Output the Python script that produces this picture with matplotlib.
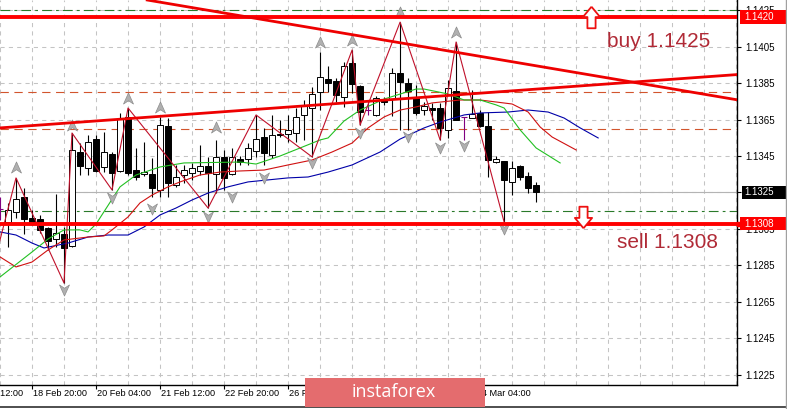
import numpy as np
import matplotlib
matplotlib.use('Agg')
import matplotlib.pyplot as plt
import matplotlib.transforms as mtrans
from matplotlib.path import Path
from matplotlib.patches import Rectangle
from matplotlib.lines import Line2D

plt.rcParams['font.family'] = ['Liberation Sans', 'DejaVu Sans']
plt.rcParams['lines.scale_dashes'] = False

# EURUSD H4 candles, bar 0 = first visible bar
opens = [1.13160, 1.13088, 1.13143, 1.13225, 1.13110, 1.13105, 1.13056, 1.12995, 1.13023, 1.12957,
         1.13472, 1.13384, 1.13543, 1.13390, 1.13461, 1.13368, 1.13664, 1.13373, 1.13351, 1.13351,
         1.13264, 1.13615, 1.13291, 1.13346, 1.13357, 1.13368, 1.13395, 1.13351, 1.13445, 1.13351,
         1.13434, 1.13434, 1.13478, 1.13554, 1.13456, 1.13571, 1.13571, 1.13576, 1.13675, 1.13713,
         1.13801, 1.13872, 1.13861, 1.13773, 1.13960, 1.13834, 1.13702, 1.13675, 1.13762, 1.13762,
         1.13905, 1.13850, 1.13773, 1.13702, 1.13713, 1.13713, 1.13593, 1.13806, 1.13664, 1.13658,
         1.13686, 1.13615, 1.13417, 1.13423, 1.13308, 1.13395, 1.13341, 1.13291]
highs = [1.13225, 1.13193, 1.13330, 1.13275, 1.13154, 1.13127, 1.13061, 1.13242, 1.13061, 1.13576,
         1.13521, 1.13565, 1.13565, 1.13582, 1.13472, 1.13686, 1.13713, 1.13494, 1.13527, 1.13439,
         1.13664, 1.13658, 1.13401, 1.13401, 1.13412, 1.13510, 1.13445, 1.13538, 1.13483, 1.13494,
         1.13450, 1.13521, 1.13675, 1.13604, 1.13675, 1.13647, 1.13675, 1.13713, 1.13757, 1.13828,
         1.14020, 1.13943, 1.13878, 1.13965, 1.14031, 1.13839, 1.13757, 1.13779, 1.13773, 1.13932,
         1.14184, 1.13878, 1.13839, 1.13746, 1.13741, 1.13741, 1.13867, 1.14075, 1.13664, 1.13812,
         1.13702, 1.13691, 1.13450, 1.13423, 1.13423, 1.13401, 1.13362, 1.13308]
lows = [1.13099, 1.12952, 1.13110, 1.13023, 1.13072, 1.13028, 1.12935, 1.12952, 1.12754, 1.12952,
        1.13346, 1.13346, 1.13362, 1.13362, 1.13264, 1.13362, 1.13346, 1.13319, 1.13341, 1.13225,
        1.13225, 1.13225, 1.13281, 1.13302, 1.13319, 1.13346, 1.13165, 1.13247, 1.13264, 1.13346,
        1.13401, 1.13401, 1.13445, 1.13401, 1.13439, 1.13554, 1.13527, 1.13527, 1.13538, 1.13445,
        1.13702, 1.13801, 1.13746, 1.13719, 1.13795, 1.13620, 1.13675, 1.13669, 1.13730, 1.13669,
        1.13593, 1.13593, 1.13675, 1.13675, 1.13647, 1.13538, 1.13549, 1.13647, 1.13538, 1.13658,
        1.13609, 1.13335, 1.13412, 1.13088, 1.13236, 1.13319, 1.13247, 1.13198]
closes = [1.13160, 1.13154, 1.13214, 1.13105, 1.13088, 1.13045, 1.12984, 1.13028, 1.12946, 1.13483,
          1.13395, 1.13527, 1.13368, 1.13472, 1.13357, 1.13653, 1.13357, 1.13335, 1.13362, 1.13275,
          1.13620, 1.13302, 1.13335, 1.13373, 1.13384, 1.13395, 1.13357, 1.13445, 1.13330, 1.13445,
          1.13417, 1.13494, 1.13543, 1.13467, 1.13565, 1.13565, 1.13593, 1.13664, 1.13724, 1.13790,
          1.13883, 1.13850, 1.13784, 1.13943, 1.13845, 1.13691, 1.13702, 1.13768, 1.13746, 1.13905,
          1.13856, 1.13806, 1.13686, 1.13724, 1.13702, 1.13604, 1.13823, 1.13647, 1.13664, 1.13680,
          1.13615, 1.13428, 1.13434, 1.13319, 1.13384, 1.13335, 1.13275, 1.13253]

# Alligator lines (shifted forward)
lips_bars = [0, 4, 6, 8, 10, 11, 12, 15, 17, 20, 23, 30, 32, 35, 40, 41, 43, 45, 48, 52,
             53, 56, 58, 60, 62, 63, 65, 67, 70]
lips = [1.12787, 1.12924, 1.12995, 1.13045, 1.13045, 1.13034, 1.13077, 1.13281, 1.13346, 1.13390,
        1.13412, 1.13417, 1.13406, 1.13450, 1.13538, 1.13549, 1.13642, 1.13702, 1.13762, 1.13817,
        1.13817, 1.13790, 1.13757, 1.13757, 1.13730, 1.13713, 1.13593, 1.13494, 1.13412]
teeth_bars = [0, 2, 4, 6, 8, 11, 13, 14, 16, 17.5, 19, 21, 22.5, 25, 27.5, 30, 33, 36, 39, 41.5,
              44, 46, 48, 50, 52, 54, 57.5, 60, 62, 64, 66, 67.5, 69, 72]
teeth = [1.12897, 1.12842, 1.12869, 1.12935, 1.12990, 1.13006, 1.13012, 1.13045, 1.13116, 1.13193,
         1.13236, 1.13281, 1.13308, 1.13346, 1.13362, 1.13368, 1.13373, 1.13401, 1.13428, 1.13472,
         1.13521, 1.13604, 1.13664, 1.13702, 1.13719, 1.13741, 1.13757, 1.13757, 1.13746, 1.13735,
         1.13691, 1.13609, 1.13554, 1.13483]
jaw_bars = [0, 2, 4, 5.5, 8.5, 11, 13.5, 16, 18, 20, 22, 24, 26, 28.5, 31, 33.5, 36, 38.5, 41, 44,
            47.5, 50, 53, 55, 58, 60, 63.5, 66, 68.5, 70.5, 72.5, 74.75]
jaw = [1.13034, 1.13017, 1.12973, 1.12946, 1.12973, 1.13006, 1.13017, 1.13017, 1.13061, 1.13127,
       1.13165, 1.13209, 1.13247, 1.13281, 1.13308, 1.13319, 1.13330, 1.13335, 1.13362, 1.13401,
       1.13472, 1.13543, 1.13604, 1.13636, 1.13675, 1.13686, 1.13691, 1.13702, 1.13691, 1.13658,
       1.13604, 1.13549]

# ZigZag
zz_bars = [-1, 2, 8, 9, 14, 16, 26, 32, 39, 44, 45, 50, 55, 57, 63]
zz_prices = [1.12820, 1.13330, 1.12754, 1.13576, 1.13264, 1.13713, 1.13165, 1.13675, 1.13445,
             1.14031, 1.13620, 1.14184, 1.13538, 1.14075, 1.13088]

# Fractals
frac_up_bars = [2, 9, 16, 20, 27, 40, 44, 50, 57]
frac_up = [1.13390, 1.13620, 1.13768, 1.13719, 1.13609, 1.14075, 1.14086, 1.14239, 1.14130]
frac_dn_bars = [8, 14, 19, 26, 29, 33, 39, 45, 51, 55, 58, 63]
frac_dn = [1.12716, 1.13220, 1.13160, 1.13116, 1.13225, 1.13330, 1.13412, 1.13576, 1.13554,
           1.13494, 1.13505, 1.13050]

# levels and trend lines
level_hi = 1.1421
level_lo = 1.1308
buy_target = 1.1425
sell_target = 1.1315
mid_levels = [1.1380, 1.1360]
last_price = 1.1325
down_trend = [(25, 1.14256), (75, 1.13885)]
up_trend = [(0, 1.13604), (75, 1.13842)]

price_ticks = [1.1225, 1.1245, 1.1265, 1.1285, 1.1305, 1.1325, 1.1345, 1.1365, 1.1385, 1.1405, 1.1425]
time_bars = [-4, 4, 12, 20, 28, 36, 44, 52, 60]
time_labels = ['15 Feb 12:00', '18 Feb 20:00', '20 Feb 04:00', '21 Feb 12:00', '22 Feb 20:00',
               '26 Feb 04:00', '27 Feb 12:00', '28 Feb 20:00', '4 Mar 04:00']

W, H = 787, 409
fig = plt.figure(figsize=(W / 100, H / 100), dpi=100)
ax = fig.add_axes([0, 24 / H, 737 / W, 385 / H])
ax.set_xlim(0, 92.1)
ax.set_ylim(1.12195, 1.14305)

# grid
grid_kw = dict(color='#c4c4c4', lw=0.75, ls=(0, (3, 3)))
ax.set_yticks(price_ticks)
ax.set_yticklabels(['%.4f' % p for p in price_ticks])
ax.set_xticks(time_bars[1:])
ax.set_xticks(np.arange(0, 93, 4), minor=True)
ax.tick_params(axis='x', which='major', length=3, width=0.8, labelbottom=False)
ax.tick_params(axis='x', which='minor', length=0)
ax.yaxis.tick_right()
ax.tick_params(axis='y', length=3, width=0.8, pad=3, labelsize=7)
ax.grid(True, which='both', axis='x', **grid_kw)
ax.grid(True, which='major', axis='y', **grid_kw)
ax.set_axisbelow(True)
for s in ['top', 'left']:
    ax.spines[s].set_visible(False)
for s in ['bottom', 'right']:
    ax.spines[s].set_linewidth(1.0)

# horizontal levels
ax.axhline(last_price, color='#b4b4b4', lw=0.8, zorder=1)
for lv in mid_levels:
    ax.axhline(lv, color='#d2552d', lw=0.8, ls=(0, (6, 4)), zorder=1)
for lv in [buy_target, sell_target]:
    ax.axhline(lv, color='#2a7a2a', lw=0.8, ls=(0, (7, 3, 2, 3)), zorder=1)

# candles
x = np.arange(len(opens))
o, h, l, c = (np.array(v) for v in (opens, highs, lows, closes))
doji = o == c
wick_cols = np.where(doji, '#800080', 'black')
ax.vlines(x, l, h, colors=wick_cols, lw=0.8, zorder=3)
body_lo = np.minimum(o, c)
body_h = np.maximum(np.abs(c - o), 0.00004)
face = np.where(c > o, 'white', 'black')
nd = ~doji
ax.bar(x[nd], body_h[nd], bottom=body_lo[nd], width=0.72, color=face[nd],
       edgecolor='black', lw=0.7, zorder=4)
ax.hlines(o[doji], x[doji] - 0.35, x[doji] + 0.35, colors='#800080', lw=0.8, zorder=4)

# alligator and zigzag
ax.plot(jaw_bars, jaw, color='#0000a8', lw=0.8, zorder=5)
ax.plot(teeth_bars, teeth, color='#d01010', lw=0.8, zorder=5)
ax.plot(lips_bars, lips, color='#22c022', lw=0.8, zorder=5)
ax.plot(zz_bars, zz_prices, color='#c0102a', lw=0.8, zorder=6)

# fractal arrows
up_head = Path([(0, 0.5), (0.45, -0.5), (0, -0.2), (-0.45, -0.5), (0, 0.5)],
               [Path.MOVETO, Path.LINETO, Path.LINETO, Path.LINETO, Path.CLOSEPOLY])
dn_head = Path([(0, -0.5), (0.45, 0.5), (0, 0.2), (-0.45, 0.5), (0, -0.5)],
               [Path.MOVETO, Path.LINETO, Path.LINETO, Path.LINETO, Path.CLOSEPOLY])
arrow_kw = dict(ls='none', ms=8, mfc='#b0b0b0', mec='#8c8c8c', mew=0.5, zorder=7)
ax.plot(frac_up_bars, frac_up, marker=up_head, **arrow_kw)
ax.plot(frac_dn_bars, frac_dn, marker=dn_head, **arrow_kw)

# thick levels and trend lines
ax.axhline(level_hi, color='#ff0000', lw=2.8, zorder=8)
ax.axhline(level_lo, color='#ff0000', lw=2.8, zorder=8)
ax.axline(down_trend[0], down_trend[1], color='#ee0000', lw=2.0, zorder=8)
ax.axline(up_trend[0], up_trend[1], color='#ee0000', lw=2.0, zorder=8)

# buy / sell arrows and text
big_up = Path([(0, 0.5), (0.4, 0.02), (0.19, 0.02), (0.19, -0.5), (-0.19, -0.5), (-0.19, 0.02),
               (-0.4, 0.02), (0, 0.5)])
big_dn = Path([(0, -0.5), (0.4, -0.02), (0.19, -0.02), (0.19, 0.5), (-0.19, 0.5), (-0.19, -0.02),
               (-0.4, -0.02), (0, -0.5)])
ax.plot([73.9], [level_hi], marker=big_up, ms=15.5, mfc='white', mec='#ee1111', mew=1.3,
        ls='none', zorder=9)
ax.plot([72.9], [1.13113], marker=big_dn, ms=15.5, mfc='white', mec='#ee1111', mew=1.3,
        ls='none', zorder=9)
ax.text(75.9, 1.14049, 'buy 1.1425', color='#b02a36', fontsize=15, va='baseline', ha='left', zorder=9)
ax.text(77.1, 1.12946, 'sell 1.1308', color='#b02a36', fontsize=15, va='baseline', ha='left', zorder=9)

# price boxes on the axis
ytr = mtrans.blended_transform_factory(ax.transAxes, ax.transData)
box_h = 0.00076
for price, txt, col, x0 in [(level_hi, '1.1420', '#ff0000', 1.004),
                            (level_lo, '1.1308', '#ff0000', 1.004),
                            (last_price, '1.1325', 'black', 1.0068)]:
    ax.add_patch(Rectangle((x0, price - box_h / 2), 1.068 - x0, box_h, transform=ytr,
                           facecolor=col, edgecolor='none', clip_on=False, zorder=10))
    ax.text(1.0105, price, txt, transform=ytr, color='white', fontsize=7, va='center',
            ha='left', clip_on=False, zorder=11)
ax.plot([1.0025], [level_lo], transform=ytr, marker='s', ms=3, color='#ff0000',
        clip_on=False, zorder=11)

# time labels
xtr = mtrans.blended_transform_factory(ax.transData, ax.transAxes)
xtr = mtrans.offset_copy(xtr, fig=fig, x=1.0, y=0, units='points')
for b, lab in zip(time_bars, time_labels):
    ax.text(b, -0.021, lab, transform=xtr, fontsize=6.6, va='center', ha='left', clip_on=False)

# logo and window border
fig.add_artist(Rectangle((305 / W, 2 / H), 180 / W, 29 / H, transform=fig.transFigure,
                         facecolor='#e46c6e', edgecolor='none', zorder=20))
fig.text(394 / W, 17 / H, 'instaforex', color='white', fontsize=13, family='Open Sans',
         ha='center', va='center', zorder=21)
fig.add_artist(Line2D([0, 1], [2.5 / H, 2.5 / H], color='#303030', lw=1.2, zorder=19))
fig.add_artist(Line2D([786 / W, 786 / W], [0, 1], color='#a0a0a0', lw=1.0, zorder=19))

fig.savefig('out.png', dpi=100)
